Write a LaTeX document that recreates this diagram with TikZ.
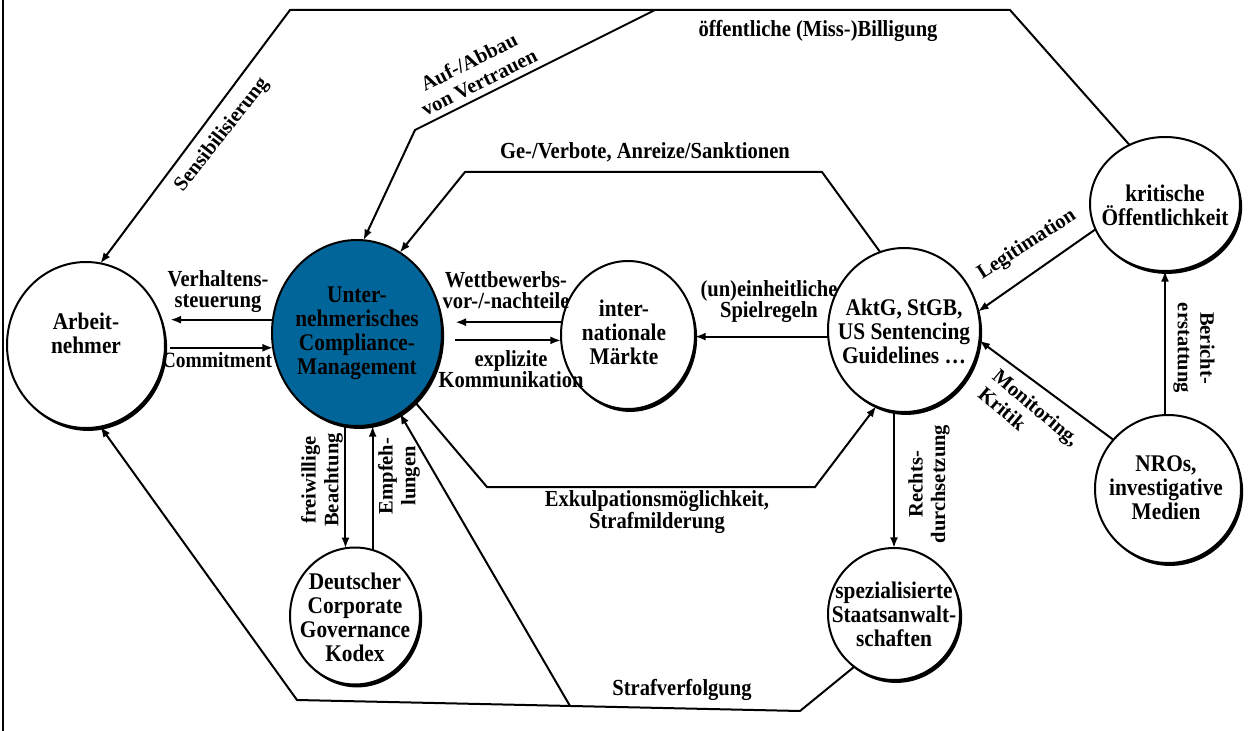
\documentclass[tikz,border=0pt]{standalone}
\usepackage{fontspec}
\setmainfont{Liberation Serif}
\usetikzlibrary{arrows.meta,shapes.geometric,shadows}
\definecolor{ccmblue}{RGB}{2,101,153}
\begin{document}
\begin{tikzpicture}[x=0.75pt,y=-0.75pt,
  every node/.style={align=center, inner sep=0pt},
  nt/.style={font=\bfseries\fontsize{16}{16}\selectfont, yscale=1.12, transform shape},
  lb/.style={font=\bfseries\fontsize{15.4}{14}\selectfont, yscale=1.12, transform shape},
  lr/.style={font=\bfseries\fontsize{15.4}{17}\selectfont},
  sz/.style 2 args={minimum width=#1*0.75pt, minimum height=#2*0.75pt},
  circ/.style={ellipse, draw, line width=1.5pt, fill=white, inner sep=0pt, outer sep=0pt,
    drop shadow={fill=black, opacity=1, shadow xshift=1.6pt, shadow yshift=-2.2pt}},
  arr/.style={line width=1.5pt, -{Latex[length=8pt,width=6pt]}}]
\useasboundingbox (0,0) rectangle (1254,731);
\draw[line width=1.8pt] (3,0) -- (3,731);

% nodes
\node[circ, sz={158}{166}] (arb) at (86,345) {};
\node[nt] (arbT) at (86,333) {Arbeit-\\nehmer};
\node[circ, fill=ccmblue, sz={170}{186}] (ccm) at (357,333) {};
\node[nt] (ccmT) at (357,333) {Unter-\\nehmerisches\\Compliance-\\Management};
\node[circ, sz={134}{148}] (mkt) at (628,335) {};
\node[nt] (mktT) at (624,332) {inter-\\nationale\\Märkte};
\node[circ, sz={152}{164}] (akt) at (904,330) {};
\node[nt] (aktT) at (904,331) {AktG, StGB,\\US Sentencing\\Guidelines \dots};
\node[circ, sz={150}{134}] (krit) at (1165,204) {};
\node[nt] (kritT) at (1165,205) {kritische\\Öffentlichkeit};
\node[circ, sz={146}{148}] (nro) at (1168,489) {};
\node[nt] (nroT) at (1166,488) {NROs,\\investigative\\Medien};
\node[circ, sz={132}{132}] (sta) at (894,614) {};
\node[nt] (staT) at (894,614) {spezialisierte\\Staatsanwalt-\\schaften};
\node[circ, sz={130}{137}] (dcgk) at (355,616) {};
\node[nt] (dcgkT) at (355,617) {Deutscher\\Corporate\\Governance\\Kodex};

% corner coordinates
\coordinate (tR) at (1010,10);
\coordinate (tM) at (655,10);
\coordinate (tL) at (290,10);
\coordinate (av) at (415,130);
\coordinate (gR) at (822,172);
\coordinate (gL) at (465,172);
\coordinate (eL) at (487,487);
\coordinate (eR) at (815,487);
\coordinate (bR) at (800,711);
\coordinate (bM) at (570,706);
\coordinate (bL) at (297,700);

% connectors
\draw[arr] (krit.121) -- (tR) -- (tL) -- (arb.80);
\draw[arr] (tM) -- (av) -- (ccm.86);
\draw[arr] (akt.107) -- (gR) -- (gL) -- (ccm.62);
\draw[arr] (ccm.-50) -- (eL) -- (eR) -- (akt.-110);
\draw[arr] (sta.233) -- (bR) -- (bL) -- (arb.-80);
\draw[arr] (bM) -- (ccm.-62);

\draw[arr, shorten >=4pt] (ccm.171) -- (ccm.171 -| arb.east);
\draw[arr, shorten <=4pt] (ccm.190 -| arb.east) -- (ccm.190);
\draw[arr, shorten >=10pt] (mkt.169) -- (mkt.169 -| ccm.east);
\draw[arr, shorten <=10pt] (ccm.-5) -- (ccm.-5 -| mkt.west);
\draw[arr] (akt.185) -- (akt.185 -| mkt.east);
\draw[arr] (sta.north |- akt.south) -- (sta.north);
\draw[arr] (dcgk.98 |- ccm.south) -- (dcgk.98);
\draw[arr] (dcgk.75) -- (dcgk.75 |- ccm.south);
\draw[arr] (krit.south |- nro.north) -- (krit.south);
\draw[arr] (krit.200) -- (akt.14);
\draw[arr] (nro.138) -- (akt.-8);

% labels
\node[lr, rotate=52] (lSens) at (222,135) {Sensibilisierung};
\node[lr, rotate=26.6] (lAuf) at (474,72) {Auf-/Abbau\\von Vertrauen};
\node[lb] (lOeff) at (818,31) {öffentliche (Miss-)Billigung};
\node[lb] (lGe) at (645,152) {Ge-/Verbote, Anreize/Sanktionen};
\node[lr, rotate=33] (lLeg) at (1027,245) {Legitimation};
\node[lr, rotate=-90] (lBer) at (1194,348) {Bericht-\\erstattung};
\node[lr, rotate=-40, align=left] (lMon) at (1029,416) {Monitoring,\\Kritik};
\node[lr, rotate=90] (lRecht) at (929,484) {Rechts-\\durchsetzung};
\node[lr, rotate=90] (lFrei) at (322,480) {freiwillige\\Beachtung};
\node[lr, rotate=90] (lEmpf) at (399,476) {Empfeh-\\lungen};
\node[lb] (lVerh) at (218,292) {Verhaltens-\\steuerung};
\node[lb, font=\bfseries\fontsize{14.6}{14}\selectfont] (lComm) at (217,360) {Commitment};
\node[lb] (lWett) at (506,290) {Wettbewerbs-\\vor-/-nachteile};
\node[lb] (lExpl) at (511,369) {explizite\\Kommunikation};
\node[lb] (lSpiel) at (769,302) {(un)einheitliche\\Spielregeln};
\node[lb] (lExk) at (657,512) {Exkulpationsmöglichkeit,\\Strafmilderung};
\node[lb] (lStraf) at (682,690) {Strafverfolgung};
\end{tikzpicture}
\end{document}
